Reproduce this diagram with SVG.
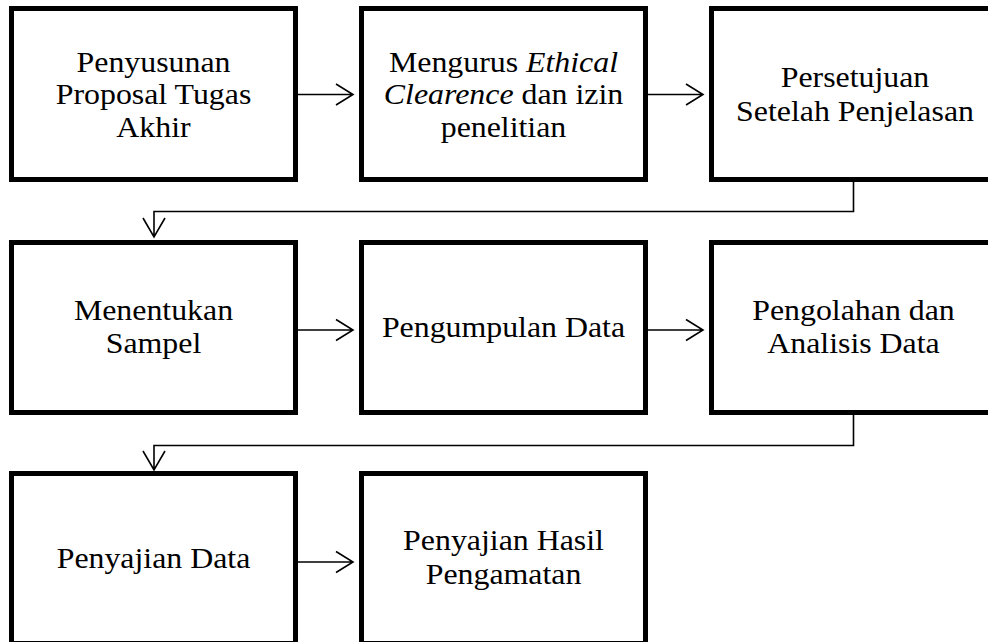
<svg xmlns="http://www.w3.org/2000/svg" width="988" height="642" viewBox="0 0 988 642">
<style>
.box{fill:#fff;stroke:#000;stroke-width:5}
.t{font-family:'Times New Roman','Liberation Serif',Tinos,Times,serif;font-size:29.5px;fill:#000;text-anchor:middle}
.i{font-style:italic}
.c{fill:none;stroke:#000;stroke-width:1.6}
</style>
<rect width="988" height="642" fill="#fff"/>
<g id="connectors">
<path class="c" d="M298 94.5H353M336 84L353 94.5L336 105"/>
<path class="c" d="M648 94.5H703M686 84L703 94.5L686 105"/>
<path class="c" d="M853.5 182V211.5H154V237M143 218L154 237L165 218"/>
<path class="c" d="M298 330H353M336 319.5L353 330L336 340.5"/>
<path class="c" d="M648 330H703M686 319.5L703 330L686 340.5"/>
<path class="c" d="M853.5 415V445.5H154V470M143 451L154 470L165 451"/>
<path class="c" d="M298 562H353M336 551.5L353 562L336 572.5"/>
</g>
<g id="n1">
<rect class="box" x="11.5" y="8.5" width="284" height="171"/>
<g transform="translate(153.5 0) scale(1.08 1)"><text class="t" x="0" y="72">Penyusunan</text><text class="t" x="0" y="104.5">Proposal Tugas</text><text class="t" x="0" y="137">Akhir</text></g>
</g>
<g id="n2">
<rect class="box" x="361.5" y="8.5" width="284" height="171"/>
<g transform="translate(503.5 0) scale(1.08 1)"><text class="t" x="0" y="72">Mengurus <tspan class="i">Ethical</tspan></text><text class="t" x="0" y="104.5"><tspan class="i">Clearence</tspan> dan izin</text><text class="t" x="0" y="137">penelitian</text></g>
</g>
<g id="n3">
<rect class="box" x="711.5" y="8.5" width="284" height="171"/>
<g transform="translate(855 0) scale(1.08 1)"><text class="t" x="0" y="87">Persetujuan</text><text class="t" x="0" y="121">Setelah Penjelasan</text></g>
</g>
<g id="n4">
<rect class="box" x="11.5" y="242.5" width="284" height="170"/>
<g transform="translate(153.5 0) scale(1.08 1)"><text class="t" x="0" y="320.5">Menentukan</text><text class="t" x="0" y="353.5">Sampel</text></g>
</g>
<g id="n5">
<rect class="box" x="361.5" y="242.5" width="284" height="170"/>
<g transform="translate(503.5 0) scale(1.08 1)"><text class="t" x="0" y="337">Pengumpulan Data</text></g>
</g>
<g id="n6">
<rect class="box" x="711.5" y="242.5" width="284" height="170"/>
<g transform="translate(853.5 0) scale(1.08 1)"><text class="t" x="0" y="320.5">Pengolahan dan</text><text class="t" x="0" y="353.5">Analisis Data</text></g>
</g>
<g id="n7">
<rect class="box" x="11.5" y="473.5" width="284" height="170"/>
<g transform="translate(153.5 0) scale(1.08 1)"><text class="t" x="0" y="568">Penyajian Data</text></g>
</g>
<g id="n8">
<rect class="box" x="361.5" y="473.5" width="284" height="170"/>
<g transform="translate(503.5 0) scale(1.08 1)"><text class="t" x="0" y="550.5">Penyajian Hasil</text><text class="t" x="0" y="584">Pengamatan</text></g>
</g>
</svg>
